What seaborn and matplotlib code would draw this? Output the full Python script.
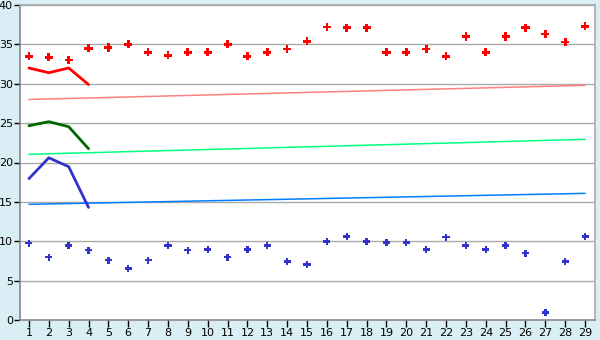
import matplotlib
matplotlib.use("Agg")
import matplotlib.pyplot as plt
import seaborn as sns
import pandas as pd

days = list(range(1, 30))
red_points = [33.5, 33.35, 33.0, 34.5, 34.6, 35.0, 34.0, 33.6, 34.0, 34.0,
              35.0, 33.5, 34.0, 34.4, 35.4, 37.2, 37.1, 37.1, 34.0, 34.0,
              34.4, 33.5, 36.0, 34.0, 36.0, 37.1, 36.3, 35.3, 37.3]
blue_points = [9.74, 7.96, 9.48, 8.85, 7.58, 6.56, 7.58, 9.48, 8.85, 8.97,
               7.96, 8.97, 9.48, 7.45, 7.07, 9.99, 10.6, 9.99, 9.86, 9.86,
               8.97, 10.5, 9.48, 8.97, 9.48, 8.47, 0.97, 7.45, 10.6]

short_x = [1, 2, 3, 4]
red_line = [32.0, 31.4, 32.0, 29.9]
green_line = [24.67, 25.18, 24.55, 21.75]
blue_line = [17.95, 20.6, 19.47, 14.3]

trend_x = [1, 29]
trend_pink = [28.0, 29.8]
trend_green = [21.04, 22.94]
trend_blue = [14.69, 16.08]

yticks = [0, 5, 10, 15, 20, 25, 30, 35, 40]

sns.set_theme(style="white")
plt.rcParams['font.family'] = ['DejaVu Sans']

bg = "#d9eff5"
fig = plt.figure(figsize=(6.0, 3.4), dpi=100, facecolor=bg)
ax = fig.add_axes([20/600, 1-320/340, 575/600, 315/340])
ax.set_facecolor("white")

for y in yticks:
    ax.axhline(y, color="#aaaaaa", lw=1.0, zorder=0)

sns.lineplot(x=trend_x, y=trend_pink, color="#ff8080", lw=1.1, ax=ax)
sns.lineplot(x=trend_x, y=trend_green, color="#00ff80", lw=1.1, ax=ax)
sns.lineplot(x=trend_x, y=trend_blue, color="#0080ff", lw=1.1, ax=ax)

sns.lineplot(x=short_x, y=red_line, color="#ff0000", lw=2, ax=ax)
sns.lineplot(x=short_x, y=green_line, color="#006600", lw=2, ax=ax)
sns.lineplot(x=short_x, y=blue_line, color="#3333cc", lw=2, ax=ax)

df = pd.DataFrame({"day": days, "red": red_points, "blue": blue_points})
sns.scatterplot(data=df, x="day", y="red", color="#ff0000", marker="P", s=34,
                edgecolor="none", ax=ax, zorder=5)
sns.scatterplot(data=df, x="day", y="blue", color="#3333cc", marker="P", s=26,
                edgecolor="none", ax=ax, zorder=5)

ax.set_xlim(0.55, 29.5)
ax.set_ylim(0, 40)
ax.set_xticks(days)
ax.set_xticklabels([str(d) for d in days])
ax.set_yticks(yticks)
ax.set_yticklabels([str(y) for y in yticks])
ax.set_xlabel("")
ax.set_ylabel("")
ax.tick_params(axis="both", labelsize=8, colors="#000000", length=4, width=1,
               direction="out", pad=2)
ax.tick_params(axis="x", length=5, pad=1)
ax.tick_params(axis="y", pad=1)
ax.xaxis.set_ticks_position("bottom")
ax.yaxis.set_ticks_position("left")
for side in ["top", "right"]:
    ax.spines[side].set_color("#aaaaaa")
    ax.spines[side].set_linewidth(1.2)
for side in ["left", "bottom"]:
    ax.spines[side].set_color("#888888")
    ax.spines[side].set_linewidth(1.2)
for t in ax.get_xticklines() + ax.get_yticklines():
    t.set_color("#000000")

fig.savefig("out.png", dpi=100, facecolor=bg)
